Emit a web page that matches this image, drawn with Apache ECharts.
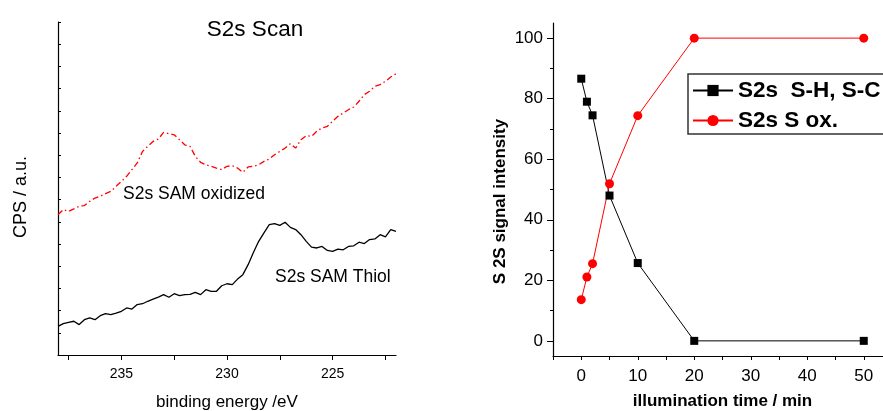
<!DOCTYPE html>
<html><head><meta charset="utf-8">
<script src="https://cdn.jsdelivr.net/npm/echarts@6/dist/echarts.min.js"></script>
<style>html,body{margin:0;padding:0;background:#fff}#c{width:883px;height:411px}</style>
</head><body><div id="c"></div>
<script>
// ---- Left panel: S2s spectra (binding energy, eV; CPS arbitrary units)
const energies = [238,237.75,237.5,237.25,237,236.75,236.5,236.25,236,235.75,235.5,235.25,235,234.75,234.5,234.25,234,233.75,233.5,233.25,233,232.75,232.5,232.25,232,231.75,231.5,231.25,231,230.75,230.5,230.25,230,229.75,229.5,229.25,229,228.75,228.5,228.25,228,227.75,227.5,227.25,227,226.75,226.5,226.25,226,225.75,225.5,225.25,225,224.75,224.5,224.25,224,223.75,223.5,223.25,223,222.75,222.5,222.25,222];
const thiolCps = [1.29,1.41,1.47,1.52,1.37,1.59,1.67,1.59,1.77,1.86,1.82,1.89,1.97,2.12,2.07,2.27,2.31,2.42,2.52,2.61,2.72,2.60,2.76,2.67,2.72,2.73,2.82,2.72,2.94,2.87,2.87,3.12,3.21,3.17,3.42,3.62,4.07,4.62,5.12,5.50,5.87,5.92,5.84,5.98,5.75,5.65,5.42,5.12,4.86,4.82,4.89,4.71,4.67,4.77,4.74,4.89,4.92,5.08,5.02,5.20,5.23,5.42,5.32,5.65,5.57];
const oxidizedCps = [6.32,6.55,6.47,6.58,6.70,6.73,6.92,7.07,7.15,7.27,7.37,7.60,7.82,8.05,8.35,8.65,9.17,9.40,9.62,9.73,10.03,9.97,9.92,9.70,9.47,9.40,8.95,8.68,8.57,8.50,8.42,8.35,8.50,8.53,8.42,8.23,8.47,8.50,8.57,8.72,8.83,9.02,9.17,9.32,9.52,9.32,9.70,9.88,9.85,10.08,10.23,10.30,10.53,10.75,10.90,11.05,11.17,11.43,11.73,11.88,12.10,12.18,12.33,12.52,12.67];
const energyTickLabels = [235,230,225];
const energyTicks = [237.5,235,232.5,230,227.5,225,222.5];

// ---- Right panel: signal intensity vs illumination time
const times = [0,1,2,5,10,20,50];
const shIntensity = [86.6,79,74.5,48,25.7,0,0];
const soxIntensity = [13.6,21.1,25.5,51.9,74.4,100,100];
const timeTickLabels = [0,10,20,30,40,50];
const timeTicks = [-5,0,5,10,15,20,25,30,35,40,45,50,55];
const intensityTickLabels = [0,20,40,60,80,100];
const intensityMinorTicks = [10,30,50,70,90];

const FONT = 'Arial, "Liberation Sans", sans-serif';
const chart = echarts.init(document.getElementById('c'), null, {renderer:'canvas'});

const pairs = (xs, ys) => xs.map((x,i)=>[x, ys[i]]);

chart.setOption({
  animation:false,
  backgroundColor:'#fff',
  textStyle:{fontFamily:FONT},
  title:{text:'S2s Scan', left:250, top:13, textAlign:'center',
    textStyle:{fontFamily:FONT, fontSize:22.5, fontWeight:'normal', color:'#000'}},
  legend:{
    data:['S2s  S-H, S-C','S2s S ox.'],
    orient:'vertical', left:688, top:74,
    padding:[5,20,2,4], itemGap:7, itemWidth:40, itemHeight:14,
    borderColor:'#333', borderWidth:1.5, borderRadius:0,
    textStyle:{fontFamily:FONT, fontSize:22.5, fontWeight:'bold', color:'#000'}
  },
  grid:[
    {left:58, top:22, width:338, height:333, outerBoundsMode:'none', containLabel:false},
    {left:553, top:23, width:339, height:333, outerBoundsMode:'none', containLabel:false}
  ],
  xAxis:[
    {gridIndex:0, type:'value', min:222, max:238, inverse:true,
     name:'binding energy /eV', nameLocation:'middle', nameGap:39,
     nameTextStyle:{fontFamily:FONT, fontSize:17, color:'#000'},
     axisLine:{lineStyle:{color:'#000', width:1.2}},
     axisTick:{customValues:energyTicks, length:5, lineStyle:{color:'#000'}},
     axisLabel:{customValues:energyTickLabels, fontSize:14, color:'#000', margin:12, fontFamily:FONT},
     splitLine:{show:false}},
    {gridIndex:1, type:'value', min:-5, max:55,
     name:'illumination time / min', nameLocation:'middle', nameGap:37,
     nameTextStyle:{fontFamily:FONT, fontSize:17, fontWeight:'bold', color:'#000'},
     axisLine:{onZero:false, lineStyle:{color:'#000', width:1.2}},
     axisTick:{customValues:timeTicks, length:4, lineStyle:{color:'#000'}},
     axisLabel:{customValues:timeTickLabels, fontSize:17, color:'#000', margin:12, fontFamily:FONT},
     splitLine:{show:false}}
  ],
  yAxis:[
    {gridIndex:0, type:'value', min:0, max:15, interval:1,
     name:'CPS / a.u.', nameLocation:'middle', nameGap:28,
     nameTextStyle:{fontFamily:FONT, fontSize:18, color:'#000', padding:[0,17,0,0]},
     axisLine:{show:true, lineStyle:{color:'#000', width:1.2}},
     axisTick:{show:true, inside:true, length:3, lineStyle:{color:'#000'}},
     axisLabel:{show:false}, splitLine:{show:false}},
    {gridIndex:1, type:'value', min:-5, max:105, position:'left',
     name:'S 2S signal intensity', nameLocation:'middle', nameGap:44,
     nameTextStyle:{fontFamily:FONT, fontSize:17, fontWeight:'bold', color:'#000', padding:[0,24,0,0]},
     axisLine:{show:true, onZero:false, lineStyle:{color:'#000', width:1.2}},
     axisTick:{customValues:intensityTickLabels, length:6, lineStyle:{color:'#000'}},
     axisLabel:{customValues:intensityTickLabels, fontSize:17, color:'#000', margin:10, fontFamily:FONT},
     splitLine:{show:false}},
    {gridIndex:1, type:'value', min:-5, max:105, position:'left', offset:0,
     axisLine:{show:false, onZero:false},
     axisTick:{show:true, customValues:intensityMinorTicks, length:3, lineStyle:{color:'#000'}},
     axisLabel:{show:false}, splitLine:{show:false}}
  ],
  graphic:[
    {type:'text', left:123, top:185, style:{text:'S2s SAM oxidized', font:'17.5px '+FONT, fill:'#000'}},
    {type:'text', left:275, top:268, style:{text:'S2s SAM Thiol', font:'17.5px '+FONT, fill:'#000'}}
  ],
  series:[
    {name:'oxidized', type:'line', xAxisIndex:0, yAxisIndex:0, data:pairs(energies, oxidizedCps),
     showSymbol:false, lineStyle:{color:'#ff0000', width:1.3, type:[6,3,1.5,3]}, silent:true},
    {name:'thiol', type:'line', xAxisIndex:0, yAxisIndex:0, data:pairs(energies, thiolCps),
     showSymbol:false, lineStyle:{color:'#000', width:1.3}, silent:true},
    {name:'S2s  S-H, S-C', type:'line', xAxisIndex:1, yAxisIndex:1, data:pairs(times, shIntensity),
     symbol:'rect', symbolSize:8, itemStyle:{color:'#000'}, lineStyle:{color:'#000', width:1}},
    {name:'S2s S ox.', type:'line', xAxisIndex:1, yAxisIndex:1, data:pairs(times, soxIntensity),
     symbol:'circle', symbolSize:9, itemStyle:{color:'#ff0000'}, lineStyle:{color:'#ff0000', width:1}}
  ]
});
</script></body></html>
